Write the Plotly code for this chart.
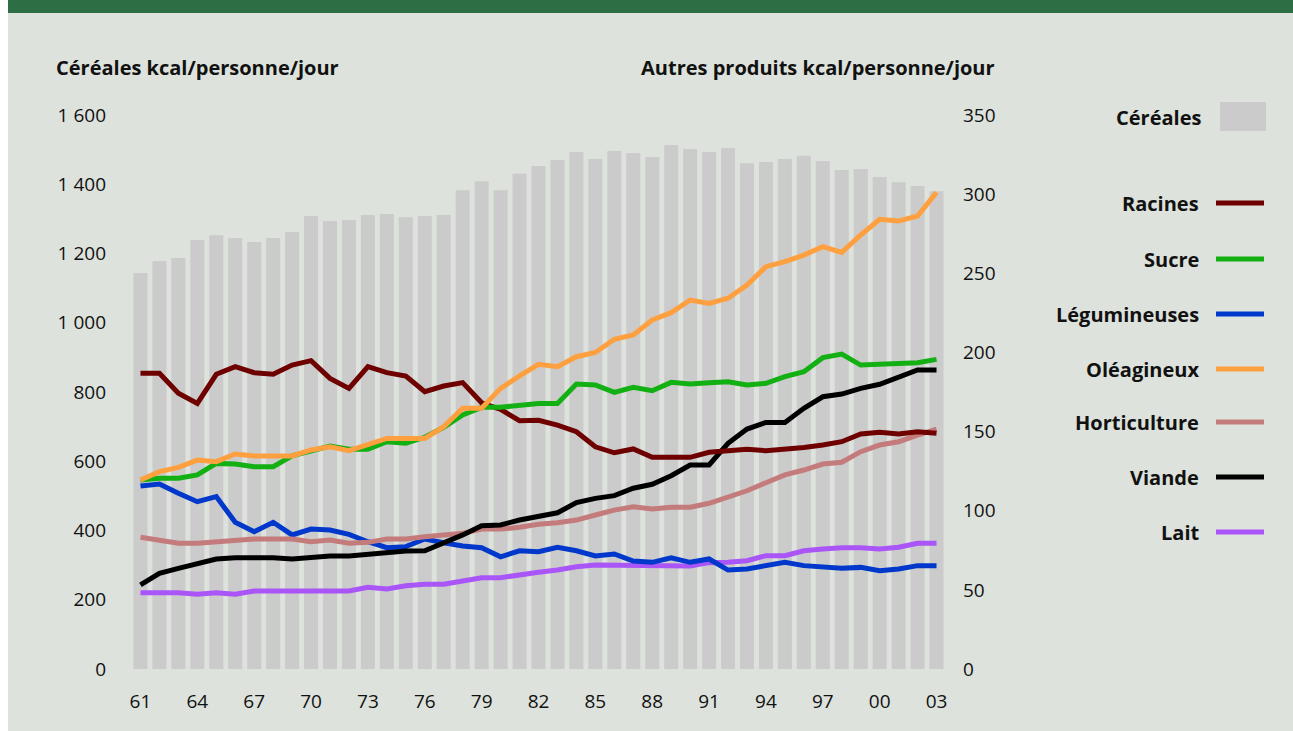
import plotly.graph_objects as go

years = list(range(1961, 2004))
year_labels = [str(y)[2:] for y in years]

cereales = [1144, 1178, 1187, 1239, 1253, 1245, 1233, 1245, 1262, 1308, 1294, 1297, 1311, 1314,
            1305, 1308, 1311, 1383, 1409, 1383, 1430, 1453, 1470, 1493, 1473, 1496, 1490, 1479,
            1513, 1502, 1493, 1505, 1461, 1464, 1473, 1482, 1467, 1441, 1444, 1421, 1406, 1395, 1380]

racines = [186.8, 186.8, 174.2, 167.8, 186.2, 191.0, 187.2, 186.2, 192.0, 194.8, 183.6, 177.3, 191.0,
           187.2, 185.1, 175.2, 178.8, 180.9, 168.2, 164.0, 156.9, 157.1, 154.1, 149.9, 140.4, 136.6,
           139.0, 133.7, 133.7, 133.7, 136.9, 137.9, 138.8, 137.9, 138.8, 140.0, 141.5, 143.6, 148.5,
           149.5, 148.5, 149.9, 148.9]
sucre = [119.4, 120.5, 120.5, 122.6, 129.9, 129.5, 127.8, 127.8, 134.6, 137.9, 140.9, 138.8, 138.8,
         143.6, 142.6, 146.4, 152.7, 160.5, 165.3, 165.3, 166.2, 167.8, 167.8, 180.0, 179.4, 174.8,
         178.0, 175.8, 181.1, 180.0, 180.9, 181.5, 179.4, 180.5, 184.7, 187.8, 196.7, 199.0, 192.0,
         192.7, 193.5, 193.5, 195.6]
legumineuses = [115.6, 116.9, 111.0, 105.7, 108.9, 92.7, 86.7, 92.7, 84.7, 88.4, 87.8, 85.1, 80.4,
                76.6, 77.3, 82.1, 79.8, 77.7, 76.6, 70.9, 74.7, 74.1, 76.9, 74.7, 71.4, 72.7, 68.2,
                67.4, 70.3, 67.4, 69.5, 62.5, 63.2, 65.3, 67.4, 65.3, 64.2, 63.6, 64.2, 62.1, 63.2,
                65.3, 65.3]
oleagineux = [119.4, 124.7, 127.4, 132.0, 131.0, 135.8, 134.6, 134.6, 134.6, 138.4, 140.4, 137.9,
              141.5, 145.7, 145.7, 145.7, 153.1, 164.7, 164.7, 177.3, 185.2, 192.5, 191.0, 197.3,
              200.0, 208.3, 211.0, 220.5, 225.1, 233.1, 231.0, 234.2, 242.6, 254.2, 257.3, 261.5,
              266.8, 263.2, 274.2, 284.1, 283.0, 286.2, 301.1]
horticulture = [83.2, 81.5, 79.4, 79.4, 80.4, 81.5, 82.1, 82.1, 82.1, 80.4, 81.5, 79.4, 80.0, 82.1,
                82.1, 83.6, 84.7, 85.7, 88.4, 88.4, 89.5, 91.4, 92.4, 94.1, 97.3, 100.4, 102.5, 101.1,
                102.2, 102.2, 104.7, 108.9, 112.6, 117.7, 122.6, 125.7, 129.5, 130.6, 137.3, 141.5,
                143.6, 147.8, 151.6]
viande = [53.1, 60.4, 63.6, 66.8, 69.5, 70.3, 70.3, 70.3, 69.5, 70.3, 71.4, 71.4, 72.5, 73.5, 74.5,
          74.7, 79.4, 84.7, 90.5, 91.0, 94.1, 96.2, 98.7, 105.1, 107.8, 109.5, 114.2, 116.7, 122.1,
          128.9, 128.9, 142.6, 151.6, 155.8, 155.8, 164.7, 172.0, 173.7, 177.3, 179.9, 184.0, 188.9,
          188.9]
lait = [48.2, 48.2, 48.2, 47.2, 48.2, 47.2, 49.3, 49.3, 49.3, 49.3, 49.3, 49.3, 51.6, 50.5, 52.6,
        53.5, 53.5, 55.6, 57.7, 57.7, 59.8, 61.1, 62.5, 64.6, 65.7, 65.7, 65.7, 65.7, 65.3, 65.1,
        67.2, 67.4, 68.4, 71.6, 71.6, 74.7, 75.8, 76.6, 76.6, 75.8, 76.9, 79.4, 79.4]

left_ticks = [0, 200, 400, 600, 800, 1000, 1200, 1400, 1600]
left_ticktext = ["0", "200", "400", "600", "800", "1 000", "1 200", "1 400", "1 600"]
right_ticks = [0, 50, 100, 150, 200, 250, 300, 350]

series = [
    ("Racines", racines, "#6e0000"),
    ("Sucre", sucre, "#12b012"),
    ("Légumineuses", legumineuses, "#0038cc"),
    ("Oléagineux", oleagineux, "#ffa040"),
    ("Horticulture", horticulture, "#c47b7b"),
    ("Viande", viande, "#000000"),
    ("Lait", lait, "#a955f7"),
]
draw_order = ["Lait", "Légumineuses", "Horticulture", "Viande", "Racines", "Sucre", "Oléagineux"]

OFFX = 8  # page body margin on the left
W, H = 1293 - OFFX, 731
# plot area in page pixels
L, R, T, B = 131, 946, 115, 669
PW, PH = R - L, B - T


def px(x):
    return (x - L) / PW


def py(y):
    return (B - y) / PH


FONT = "Open Sans"
BG = "#dde2dc"
TXT = "#111111"

fig = go.Figure()
fig.add_trace(go.Bar(x=years, y=cereales, marker=dict(color="#cbcbcb", line=dict(width=0)),
                     name="Céréales", yaxis="y", showlegend=False))
sd = {s[0]: s for s in series}
for nm in draw_order:
    name, vals, col = sd[nm]
    fig.add_trace(go.Scatter(x=years, y=vals, mode="lines", name=name, yaxis="y2",
                             line=dict(color=col, width=5), showlegend=False))

shapes = []
shapes.append(dict(type="rect", xref="paper", yref="paper", x0=px(OFFX - 5), x1=px(1300), y0=py(13), y1=py(-5),
                   fillcolor="#2e6e44", line=dict(width=0), layer="below"))

annotations = []
annotations.append(dict(text="<b>Céréales kcal/personne/jour</b>", xref="paper", yref="paper",
                        x=px(54), y=py(67), xanchor="left", yanchor="middle", showarrow=False,
                        font=dict(family=FONT, size=20, color=TXT)))
annotations.append(dict(text="<b>Autres produits kcal/personne/jour</b>", xref="paper", yref="paper",
                        x=px(997), y=py(67), xanchor="right", yanchor="middle", showarrow=False,
                        font=dict(family=FONT, size=20, color=TXT)))

# legend
annotations.append(dict(text="<b>Céréales</b>", xref="paper", yref="paper", x=px(1203), y=py(117),
                        xanchor="right", yanchor="middle", showarrow=False,
                        font=dict(family=FONT, size=20, color=TXT)))
shapes.append(dict(type="rect", xref="paper", yref="paper", x0=px(1220), x1=px(1266), y0=py(131), y1=py(102),
                   fillcolor="#cbcbcb", line=dict(width=0)))
leg_y = [203, 259, 314, 369, 422, 477, 532]
for (name, vals, col), yy in zip(series, leg_y):
    annotations.append(dict(text="<b>" + name + "</b>", xref="paper", yref="paper", x=px(1201), y=py(yy),
                            xanchor="right", yanchor="middle", showarrow=False,
                            font=dict(family=FONT, size=20, color=TXT)))
    shapes.append(dict(type="line", xref="paper", yref="paper", x0=px(1216), x1=px(1264), y0=py(yy), y1=py(yy),
                       line=dict(color=col, width=5)))

fig.update_layout(
    width=W, height=H,
    margin=dict(l=L - OFFX, r=W - (R - OFFX), t=T, b=H - B, pad=0),
    paper_bgcolor=BG, plot_bgcolor="rgba(0,0,0,0)",
    bargap=0.26,
    showlegend=False,
    font=dict(family=FONT, size=19, color=TXT),
    xaxis=dict(range=[1960.5, 2003.5], tickmode="array", tickvals=years[::3], ticktext=year_labels[::3],
               showgrid=False, zeroline=False, showline=False, ticks="", ticklabelstandoff=19,
               tickfont=dict(family=FONT, size=19, color=TXT)),
    yaxis=dict(range=[0, 1600], tickmode="array", tickvals=left_ticks, ticktext=left_ticktext,
               showgrid=False, zeroline=False, showline=False, ticks="", ticklabelstandoff=24,
               tickfont=dict(family=FONT, size=19, color=TXT)),
    yaxis2=dict(range=[0, 350], tickmode="array", tickvals=right_ticks, overlaying="y", side="right",
                showgrid=False, zeroline=False, showline=False, ticks="", ticklabelstandoff=16,
                tickfont=dict(family=FONT, size=19, color=TXT)),
    shapes=shapes, annotations=annotations,
)

fig.write_html("out.html", post_script="document.body.style.margin='0px 0px 0px 8px';")
